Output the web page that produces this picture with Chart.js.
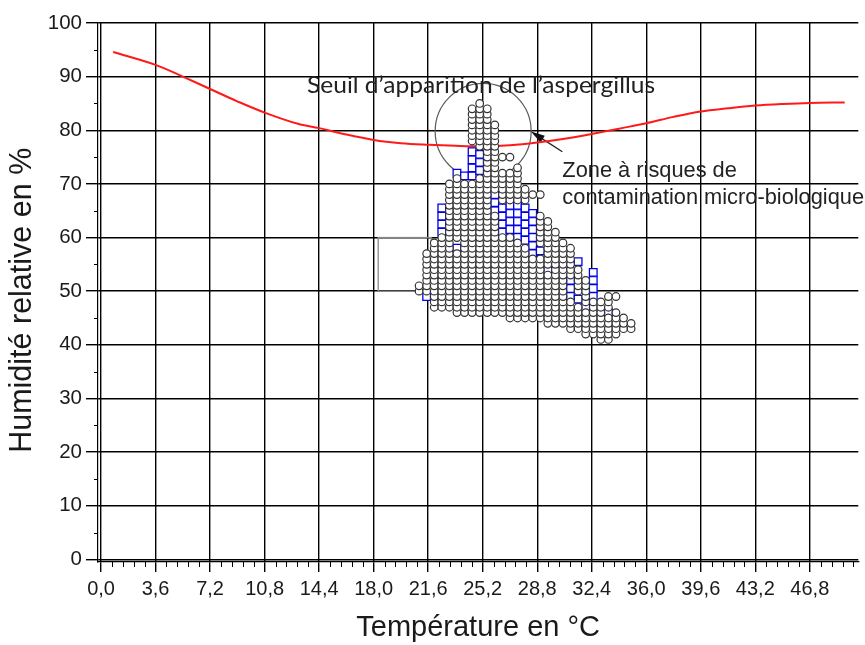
<!DOCTYPE html>
<html>
<head>
<meta charset="utf-8">
<script src="https://cdn.jsdelivr.net/npm/chart.js@4.4.1/dist/chart.umd.min.js"></script>
<style>
  html, body { margin: 0; padding: 0; background: #fff; }
  canvas { display: block; }
</style>
</head>
<body>
<canvas id="chart" width="865" height="645"></canvas>
<script>
// axis ticks
var xTicks = [0, 3.6, 7.2, 10.8, 14.4, 18.0, 21.6, 25.2, 28.8, 32.4, 36.0, 39.6, 43.2, 46.8];
var yTicks = [0, 10, 20, 30, 40, 50, 60, 70, 80, 90, 100];

// red threshold curve (aspergillus)
var curveTemps = [0.8, 3.6, 5.4, 7.2, 9.0, 10.8, 13.0, 14.4, 16.2, 18.0, 19.8, 21.6, 23.4, 25.2, 27.0,
                  28.8, 30.6, 32.4, 34.2, 36.0, 37.8, 39.6, 41.4, 43.2, 45.0, 46.8, 49.1];
var curveHumidity = [94.6, 92.2, 90.0, 87.7, 85.4, 83.3, 81.2, 80.4, 79.2, 78.2, 77.6, 77.3, 77.1, 77.0, 77.2,
                     77.7, 78.4, 79.3, 80.3, 81.3, 82.5, 83.5, 84.1, 84.6, 84.9, 85.1, 85.2];

// measurements, grey circles : one temperature column -> humidity values
var circleTemps = [21.0, 21.5, 22.0, 22.5, 23.0, 23.5, 24.0, 24.5, 25.0, 25.5, 26.0, 26.5, 27.0, 27.5, 28.0,
                   28.5, 29.0, 29.5, 30.0, 30.5, 31.0, 31.5, 32.0, 32.5, 33.0, 33.5, 34.0, 34.5, 35.0];
var circleHumidity = [
    [50, 51],
    [50, 51, 52, 53, 54, 55, 56, 57],
    [47, 48, 49, 50, 51, 52, 53, 54, 55, 56, 57, 58, 59],
    [47, 48, 49, 50, 51, 52, 53, 54, 55, 56, 57, 58, 59, 60],
    [47, 48, 49, 50, 51, 52, 53, 54, 55, 56, 57, 58, 59, 60, 61, 62, 63, 64, 65, 66, 67, 68, 69, 70],
    [46, 47, 48, 49, 50, 51, 52, 53, 54, 55, 56, 57, 60, 61, 62, 63, 64, 65, 66, 67, 68, 69, 70, 71],
    [46, 47, 48, 49, 50, 51, 52, 53, 54, 55, 56, 57, 58, 59, 60, 61, 62, 63, 64, 65, 66, 67, 68, 69, 70],
    [46, 47, 48, 49, 50, 51, 52, 53, 54, 55, 56, 57, 58, 59, 60, 61, 62, 63, 64, 65, 66, 67, 68, 69, 70,
     78, 79, 80, 81, 82, 83, 84],
    [46, 47, 48, 49, 50, 51, 52, 53, 54, 55, 56, 57, 58, 59, 60, 61, 62, 63, 64, 65, 66, 67, 68, 69, 70,
     71, 77, 78, 79, 80, 81, 82, 83, 84, 85],
    [46, 47, 48, 49, 50, 51, 52, 53, 54, 55, 56, 57, 58, 59, 60, 61, 62, 63, 64, 65, 66, 67, 68, 69, 70,
     71, 72, 73, 74, 75, 76, 77, 78, 79, 80, 81, 82, 83, 84],
    [46, 47, 48, 49, 50, 51, 52, 53, 54, 55, 56, 57, 58, 59, 60, 61, 62, 63, 64, 69, 70,
     71, 72, 73, 74, 75, 76, 77, 78, 79, 80, 81],
    [46, 47, 48, 49, 50, 51, 52, 53, 54, 55, 56, 57, 58, 59, 60, 67, 68, 69, 70, 71, 72, 75],
    [45, 46, 47, 48, 49, 50, 51, 52, 53, 54, 55, 56, 57, 58, 59, 60, 67, 68, 69, 70, 71, 72, 75],
    [45, 46, 47, 48, 49, 50, 51, 52, 53, 54, 55, 56, 57, 58, 59, 67, 68, 69, 70, 71, 72, 73],
    [45, 46, 47, 48, 49, 50, 51, 52, 53, 54, 55, 56, 57, 58, 67, 68, 69],
    [45, 46, 47, 48, 49, 50, 51, 52, 53, 54, 55, 56, 68],
    [45, 46, 47, 48, 49, 50, 51, 52, 53, 54, 55, 56, 59, 60, 61, 62, 63, 64, 68],
    [44, 45, 46, 47, 48, 49, 50, 51, 52, 53, 55, 56, 57, 58, 59, 60, 61, 62, 63],
    [44, 45, 46, 47, 48, 49, 50, 51, 52, 53, 54, 55, 56, 57, 58, 59, 60, 61],
    [44, 45, 46, 47, 48, 49, 50, 51, 52, 53, 54, 55, 56, 57, 58, 59],
    [43, 44, 45, 46, 47, 48, 53, 54, 55, 56, 57, 58],
    [43, 44, 45, 46, 47, 50, 51, 52, 53, 54],
    [42, 43, 44, 45, 46, 48, 49, 50, 51, 52],
    [42, 43, 44, 45, 46, 47, 48],
    [41, 42, 43, 44, 45, 46, 47, 48],
    [41, 42, 43, 44, 45, 47, 48, 49],
    [42, 43, 44, 45, 46, 49],
    [43, 44, 45],
    [43, 44]
];

// measurements, blue squares
var squareTemps = [21.5, 22.5, 23.5, 24.0, 24.5, 25.0, 26.0, 26.5, 27.0, 27.5, 28.0, 28.5, 29.0, 29.5,
                   31.0, 31.5, 32.0, 32.5, 33.5];
var squareHumidity = [
    [49],
    [61, 62.5, 64, 65.5],
    [58, 72],
    [71.5],
    [71.5, 73, 74.5, 76],
    [72.5, 74, 75.5],
    [65, 66.5, 68],
    [61, 62.5, 64, 65.5],
    [61.5, 63, 64.5, 66],
    [60, 61.5, 63, 64.5, 66],
    [59.5, 61, 62.5, 64, 65.5],
    [57, 58.5, 60, 61.5, 63, 64.5],
    [57.5],
    [54],
    [49, 50.5, 52],
    [48.5, 55.5],
    [47],
    [49, 50.5, 52, 53.5],
    [46]
];

function columnsToPoints(temps, values) {
    var pts = [];
    for (let i = 0; i < temps.length; i++) {
        for (let j = 0; j < values[i].length; j++) {
            pts.push({x: temps[i], y: values[i][j]});
        }
    }
    return pts;
}

var curvePoints = curveTemps.map(function(t, i) { return {x: t, y: curveHumidity[i]}; });

var FONT = "'Liberation Sans', Arial, sans-serif";
var INK = '#1a1a1a';

// draws text squeezed or stretched to a given width
function fitText(ctx, text, px, py, width) {
    var w = ctx.measureText(text).width;
    ctx.save();
    ctx.translate(px, py);
    ctx.scale(width / w, 1);
    ctx.fillText(text, 0, 0);
    ctx.restore();
}

// grey box, circle, arrow and the two notes
var annotations = {
    id: 'annotations',
    beforeDatasetsDraw: function(chart) {
        var ctx = chart.ctx, x = chart.scales.x, y = chart.scales.y;
        ctx.save();

        ctx.strokeStyle = '#8a8a8a';
        ctx.lineWidth = 1.3;
        var bx1 = x.getPixelForValue(18.3), bx2 = x.getPixelForValue(21.8);
        var by1 = y.getPixelForValue(60), by2 = y.getPixelForValue(50);
        ctx.strokeRect(bx1, by1, bx2 - bx1, by2 - by1);

        ctx.strokeStyle = '#5a5a5a';
        ctx.lineWidth = 1.2;
        ctx.beginPath();
        ctx.arc(x.getPixelForValue(25.23), y.getPixelForValue(79.8), 48, 0, 2 * Math.PI);
        ctx.stroke();

        // arrow towards the circle
        var tx = x.getPixelForValue(30.46), ty = y.getPixelForValue(76.0);
        var hx = x.getPixelForValue(28.38), hy = y.getPixelForValue(79.77);
        var ang = Math.atan2(hy - ty, hx - tx);
        ctx.strokeStyle = '#222';
        ctx.lineWidth = 1.3;
        ctx.beginPath();
        ctx.moveTo(tx, ty);
        ctx.lineTo(hx - 10 * Math.cos(ang), hy - 10 * Math.sin(ang));
        ctx.stroke();
        ctx.fillStyle = '#111';
        ctx.beginPath();
        ctx.moveTo(hx, hy);
        ctx.lineTo(hx - 14 * Math.cos(ang) + 4 * Math.sin(ang), hy - 14 * Math.sin(ang) - 4 * Math.cos(ang));
        ctx.lineTo(hx - 14 * Math.cos(ang) - 4 * Math.sin(ang), hy - 14 * Math.sin(ang) + 4 * Math.cos(ang));
        ctx.closePath();
        ctx.fill();

        ctx.textAlign = 'left';
        ctx.textBaseline = 'alphabetic';
        ctx.fillStyle = '#222';
        ctx.font = "23px Lato, 'Open Sans', sans-serif";
        var sx1 = x.getPixelForValue(13.6), sx2 = x.getPixelForValue(36.58);
        fitText(ctx, 'Seuil d\u2019apparition de l\u2019aspergillus', sx1, y.getPixelForValue(86.9), sx2 - sx1);

        ctx.font = '21.8px ' + FONT;
        ctx.fillText('Zone \u00e0 risques de', x.getPixelForValue(30.46), y.getPixelForValue(71.36));
        ctx.fillText('contamination micro-biologique', x.getPixelForValue(30.46), y.getPixelForValue(66.27));
        ctx.restore();
    }
};

// small ticks between the labelled ones, and the rotated y title
var minorTicks = {
    id: 'minorTicks',
    afterDraw: function(chart) {
        var ctx = chart.ctx, x = chart.scales.x, y = chart.scales.y;
        var area = chart.chartArea;
        ctx.save();
        ctx.strokeStyle = '#000';
        ctx.lineWidth = 1;
        ctx.beginPath();
        for (let k = 1; k * 0.72 <= x.max; k++) {
            if (k % 5 === 0) continue;
            var px = Math.round(x.getPixelForValue(k * 0.72)) + 0.5;
            ctx.moveTo(px, area.bottom);
            ctx.lineTo(px, area.bottom + 5);
        }
        for (let v = 5; v < 100; v += 10) {
            var py = Math.round(y.getPixelForValue(v)) + 0.5;
            ctx.moveTo(area.left - 4, py);
            ctx.lineTo(area.left, py);
        }
        ctx.stroke();

        ctx.translate(23, y.getPixelForValue(48.3));
        ctx.rotate(-Math.PI / 2);
        ctx.fillStyle = INK;
        ctx.font = '30.5px ' + FONT;
        ctx.textAlign = 'center';
        ctx.textBaseline = 'middle';
        ctx.fillText('Humidité relative en %', 0, 0);
        ctx.restore();
    }
};

var ctx = document.getElementById('chart').getContext('2d');
new Chart(ctx, {
    type: 'scatter',
    data: {
        datasets: [{
            label: 'Mesures',
            data: columnsToPoints(circleTemps, circleHumidity),
            pointStyle: 'circle',
            pointRadius: 3.8,
            borderWidth: 1.2,
            borderColor: '#333333',
            backgroundColor: '#ffffff',
            order: 1
        }, {
            label: 'Mesures 2',
            data: columnsToPoints(squareTemps, squareHumidity),
            pointStyle: 'rect',
            pointRadius: 5.4,
            borderWidth: 1.3,
            borderColor: '#0000e6',
            backgroundColor: '#ffffff',
            order: 2
        }, {
            type: 'line',
            label: 'Seuil aspergillus',
            data: curvePoints,
            borderColor: '#ff1a1a',
            borderWidth: 2,
            pointRadius: 0,
            fill: false,
            tension: 0.35,
            order: 3
        }]
    },
    options: {
        responsive: false,
        animation: false,
        devicePixelRatio: 1,
        layout: { padding: { top: 23, left: 0, right: 0, bottom: 0 } },
        plugins: {
            legend: { display: false },
            tooltip: { enabled: false }
        },
        scales: {
            x: {
                type: 'linear',
                min: -0.2,
                max: 50,
                afterBuildTicks: function(scale) {
                    scale.ticks = xTicks.map(function(v) { return {value: v}; });
                },
                afterFit: function(scale) { scale.height = 83; },
                grid: { color: '#000', lineWidth: 1.4, tickLength: 10, tickColor: '#000' },
                border: { display: true, color: '#000', width: 1.2 },
                ticks: {
                    color: INK,
                    font: { family: FONT, size: 20 },
                    padding: 5,
                    maxRotation: 0,
                    autoSkip: false,
                    callback: function(v) { return v.toFixed(1).replace('.', ','); }
                },
                title: {
                    display: true,
                    text: 'Température en °C',
                    color: INK,
                    font: { family: FONT, size: 29 },
                    padding: { top: 0, bottom: 0 }
                }
            },
            y: {
                type: 'linear',
                min: -0.5,
                max: 100,
                afterBuildTicks: function(scale) {
                    scale.ticks = yTicks.map(function(v) { return {value: v}; });
                },
                afterFit: function(scale) { scale.width = 98; },
                grid: { color: '#000', lineWidth: 1.4, tickLength: 12, tickColor: '#000' },
                border: { display: true, color: '#000', width: 1.2 },
                ticks: {
                    color: INK,
                    font: { family: FONT, size: 20.5 },
                    padding: 4,
                    autoSkip: false
                }
            }
        }
    },
    plugins: [annotations, minorTicks]
});
</script>
</body>
</html>
